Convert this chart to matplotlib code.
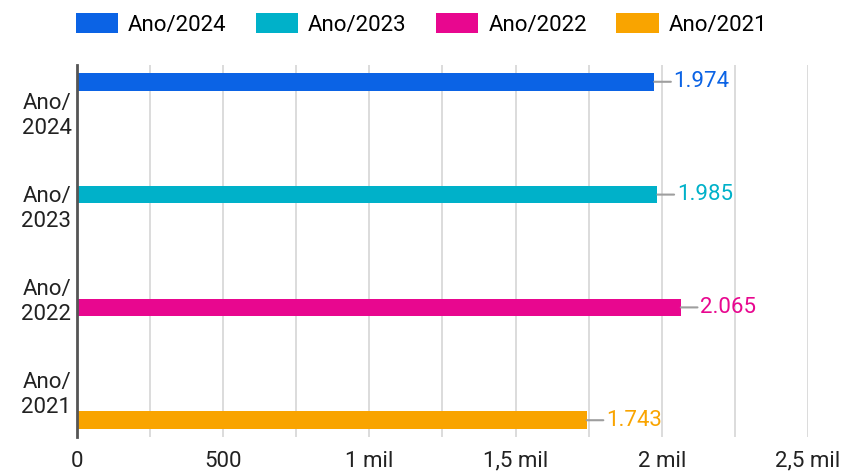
import matplotlib.pyplot as plt
from matplotlib.patches import Patch
from matplotlib.ticker import MultipleLocator

plt.rcParams['font.family'] = ['Roboto', 'DejaVu Sans']

categories = ['Ano/\n2024', 'Ano/\n2023', 'Ano/\n2022', 'Ano/\n2021']
series = ['Ano/2024', 'Ano/2023', 'Ano/2022', 'Ano/2021']
values = [1974, 1985, 2065, 1743]
colors = ['#0b63e5', '#00b1c9', '#e8078f', '#f9a400']
xticks = [0, 500, 1000, 1500, 2000, 2500]
xticklabels = ['0', '500', '1 mil', '1,5 mil', '2 mil', '2,5 mil']

fig = plt.figure(figsize=(8.43, 4.73), dpi=100)
ax = fig.add_axes([0.0913, 0.0761, 0.8672, 0.7865])

slot = 0.213
for i, (name, v, c) in enumerate(zip(series, values, colors)):
    # each series only has a value in its own category; 4 slots per group
    y = i + (i - 1.5) * slot
    ax.barh(y, v, height=0.19, color=c, zorder=3)
    label = f'{v:,}'.replace(',', '.')
    ax.annotate(label, xy=(v, y), xytext=(14, 0), textcoords='offset points',
                ha='left', va='center', fontsize=16, color=c,
                arrowprops=dict(arrowstyle='-', color='#9e9e9e', lw=1.5,
                                shrinkA=0, shrinkB=0, relpos=(0, 0.5)))

ax.set_xlim(0, 2500)
ax.set_ylim(3.5, -0.5)
ax.set_yticks(range(len(categories)))
ax.set_yticklabels(categories, fontsize=16, color='#222222', linespacing=1.25)
ax.set_xticks(xticks)
ax.set_xticklabels(xticklabels, fontsize=16, color='#222222')
ax.xaxis.set_minor_locator(MultipleLocator(250))
ax.tick_params(axis='both', which='both', length=0)
ax.tick_params(axis='x', pad=10)
ax.tick_params(axis='y', pad=4)
ax.grid(axis='x', which='both', color='#d9d9d9', lw=1.3, zorder=0)
for s in ['top', 'right', 'bottom']:
    ax.spines[s].set_visible(False)
ax.spines['left'].set_color('#555555')
ax.spines['left'].set_linewidth(2)
ax.spines['left'].set_zorder(4)

handles = [Patch(facecolor=c, edgecolor='none') for c in colors]
fig.legend(handles, series, loc='center', bbox_to_anchor=(0.5, 1 - 24.5 / 473),
           ncol=4, frameon=False, fontsize=16, handlelength=1.9,
           handleheight=0.95, handletextpad=0.45, columnspacing=1.32,
           borderpad=0)

fig.savefig('out.png', dpi=100)
